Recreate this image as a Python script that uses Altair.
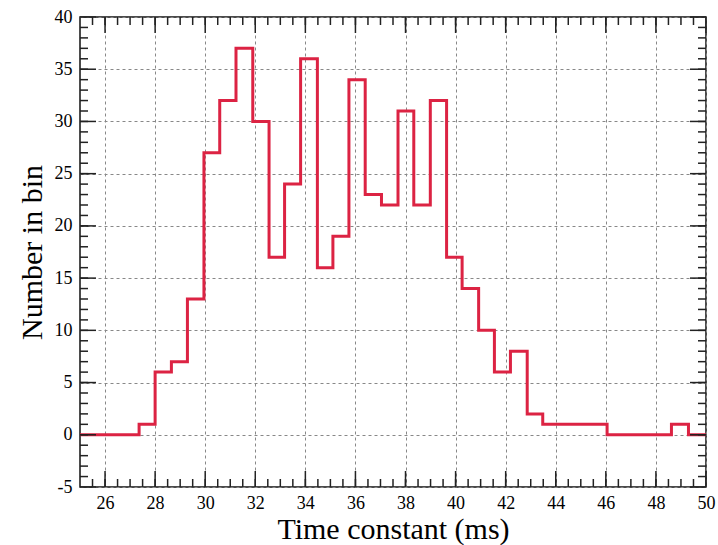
import altair as alt
import pandas as pd
import numpy as np

# Step histogram: left bin edges (ms) and counts per bin (last point closes the step)
edges = [25.0, 27.36, 28.0, 28.65, 29.29, 29.95, 30.58, 31.23, 31.9, 32.55, 33.17,
         33.81, 34.48, 35.1, 35.74, 36.39, 37.04, 37.7, 38.33, 38.99, 39.64,
         40.26, 40.92, 41.55, 42.19, 42.86, 43.48, 46.05, 48.62, 49.3, 50.0]
counts = [0, 1, 6, 7, 13, 27, 32, 37, 30, 17, 24,
          36, 16, 19, 34, 23, 22, 31, 22, 32, 17,
          14, 10, 6, 8, 2, 1, 0, 1, 0, 0]

x_major = [26, 28, 30, 32, 34, 36, 38, 40, 42, 44, 46, 48, 50]
y_major = [-5, 0, 5, 10, 15, 20, 25, 30, 35, 40]

W, H = 626, 470
FONT = "Liberation Serif"

df = pd.DataFrame({"x": edges, "y": counts})

xscale = alt.Scale(domain=[25, 50], nice=False, zero=False)
yscale = alt.Scale(domain=[-5, 40], nice=False, zero=False)

xaxis = alt.Axis(values=x_major, title="Time constant (ms)", grid=True, ticks=False,
                 domain=False, labelFont=FONT, labelFontSize=18, labelColor="black",
                 labelPadding=7, titleFont=FONT, titleFontSize=30,
                 titleFontWeight="normal", titleColor="black", titlePadding=2,
                 gridDash=[3, 3], gridColor="#888888", gridWidth=1, labelFlush=False)
yaxis = alt.Axis(values=y_major, title="Number in bin", grid=True, ticks=False,
                 domain=False, labelFont=FONT, labelFontSize=18, labelColor="black",
                 labelPadding=8, titleFont=FONT, titleFontSize=30,
                 titleFontWeight="normal", titleColor="black", titlePadding=7,
                 gridDash=[3, 3], gridColor="#888888", gridWidth=1, labelFlush=False,
                 labelExpr="replace(datum.label, '\u2212', '-')")

line = alt.Chart(df).mark_line(interpolate="step-after", color="#dc2343",
                               strokeWidth=3).encode(
    x=alt.X("x:Q", scale=xscale, axis=xaxis),
    y=alt.Y("y:Q", scale=yscale, axis=yaxis),
)

# inward tick marks on all four sides
xt_major = pd.DataFrame({"x": np.arange(26, 50.01, 2.0)})
xt_minor = pd.DataFrame({"x": np.arange(25.5, 50.0, 0.5)})
yt_major = pd.DataFrame({"y": np.arange(-5, 40.01, 5.0)})
yt_minor = pd.DataFrame({"y": np.arange(-4, 40.0, 1.0)})

tick_color = "#222222"


def xticks(d, length):
    top = alt.Chart(d).mark_rule(color=tick_color, strokeWidth=1.5).encode(
        x=alt.X("x:Q", scale=xscale, axis=xaxis), y=alt.value(0), y2=alt.value(length))
    bot = alt.Chart(d).mark_rule(color=tick_color, strokeWidth=1.5).encode(
        x=alt.X("x:Q", scale=xscale, axis=xaxis), y=alt.value(H), y2=alt.value(H - length))
    return [top, bot]


def yticks(d, length):
    left = alt.Chart(d).mark_rule(color=tick_color, strokeWidth=1.5).encode(
        y=alt.Y("y:Q", scale=yscale, axis=yaxis), x=alt.value(0), x2=alt.value(length))
    right = alt.Chart(d).mark_rule(color=tick_color, strokeWidth=1.5).encode(
        y=alt.Y("y:Q", scale=yscale, axis=yaxis), x=alt.value(W), x2=alt.value(W - length))
    return [left, right]


layers = [line] + xticks(xt_major, 16) + xticks(xt_minor, 8) + yticks(yt_major, 16) + yticks(yt_minor, 8)

chart = alt.layer(*layers).properties(
    width=W, height=H,
    autosize=alt.AutoSizeParams(type="none"),
    padding={"left": 80, "top": 17, "right": 12, "bottom": 58},
    background="white",
).configure_view(stroke="#111111", strokeWidth=1.5)

chart.save("out.html", embed_options={"renderer": "svg", "actions": False})
